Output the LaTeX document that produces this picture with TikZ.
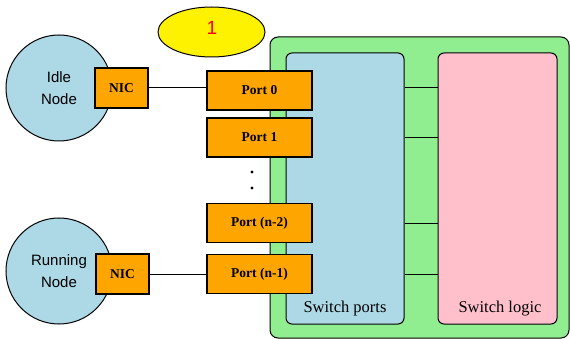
\documentclass[tikz,border=0pt]{standalone}
\usepackage{fontspec}
\setmainfont{Liberation Serif}
\setsansfont{Liberation Sans}
\usetikzlibrary{shapes.geometric}
\definecolor{lblue}{RGB}{173,216,230}
\definecolor{lgreen}{RGB}{144,238,144}
\definecolor{lpink}{RGB}{255,192,203}
\definecolor{orng}{RGB}{255,165,0}
\tikzset{
  portbox/.style={draw=black, line width=1.2pt, fill=orng, minimum width=105pt, minimum height=39pt, inner sep=0pt, font=\fontsize{13.5}{15}\selectfont\bfseries},
  nicbox/.style={draw=black, line width=1.2pt, fill=orng, minimum width=53pt, minimum height=40pt, inner sep=0pt, font=\fontsize{13.5}{15}\selectfont\bfseries},
  hostnode/.style={circle, draw=black, line width=1pt, fill=lblue, minimum size=106pt, inner sep=0pt, align=center, font=\sffamily\fontsize{15}{21.5}\selectfont},
  region/.style={draw=black, line width=1pt, rounded corners=6pt, inner sep=0pt},
  wire/.style={draw=black, line width=1pt},
  lbl/.style={inner sep=0pt, anchor=base, font=\fontsize{16.5}{18}\selectfont}
}
\begin{document}
\begin{tikzpicture}[x=1pt, y=-1pt]
\useasboundingbox (0,0) rectangle (570,339);
% switch enclosure
\draw[region, rounded corners=8pt, fill=lgreen] (270,37) rectangle (569,338);
\node[region, fill=lblue, minimum width=118pt, minimum height=271pt] (ports) at (345,188.5) {};
\node[region, fill=lpink, minimum width=119pt, minimum height=271pt] (logic) at (497.5,188.5) {};
\node[lbl] (portslbl) at (345,312) {Switch ports};
\node[lbl] (logiclbl) at (500,312) {Switch logic};
\foreach \yy in {88,138,223,274}
  \draw[wire] (ports.east |- 0,\yy) -- (logic.west |- 0,\yy);
% ports
\node[portbox] (p0) at (259.5,90.5) {Port 0};
\node[portbox] (p1) at (259.5,137.5) {Port 1};
\node[portbox] (pn2) at (259.5,223) {Port (n-2)};
\node[portbox] (pn1) at (259.5,274) {Port (n-1)};
\fill (252,172) circle (1.6pt);
\fill (252,188) circle (1.6pt);
% hosts
\node[hostnode] (idle) at (59,88) {Idle\\Node};
\node[hostnode] (run) at (59,271) {Running\\Node};
\node[nicbox] (nic1) at (121.5,88) {NIC};
\node[nicbox] (nic2) at (122.5,274) {NIC};
\draw[wire] (nic1.east) -- (nic1.east -| p0.west);
\draw[wire] (nic2.east) -- (nic2.east -| pn1.west);
% label
\node[ellipse, draw=black, line width=1pt, fill=yellow, minimum width=107pt, minimum height=50pt, inner sep=0pt] (tag) at (211.5,32) {};
\node[inner sep=0pt, text=red, font=\sffamily\fontsize{19}{20}\selectfont] (tagtxt) at (212,28) {1};
\end{tikzpicture}
\end{document}
